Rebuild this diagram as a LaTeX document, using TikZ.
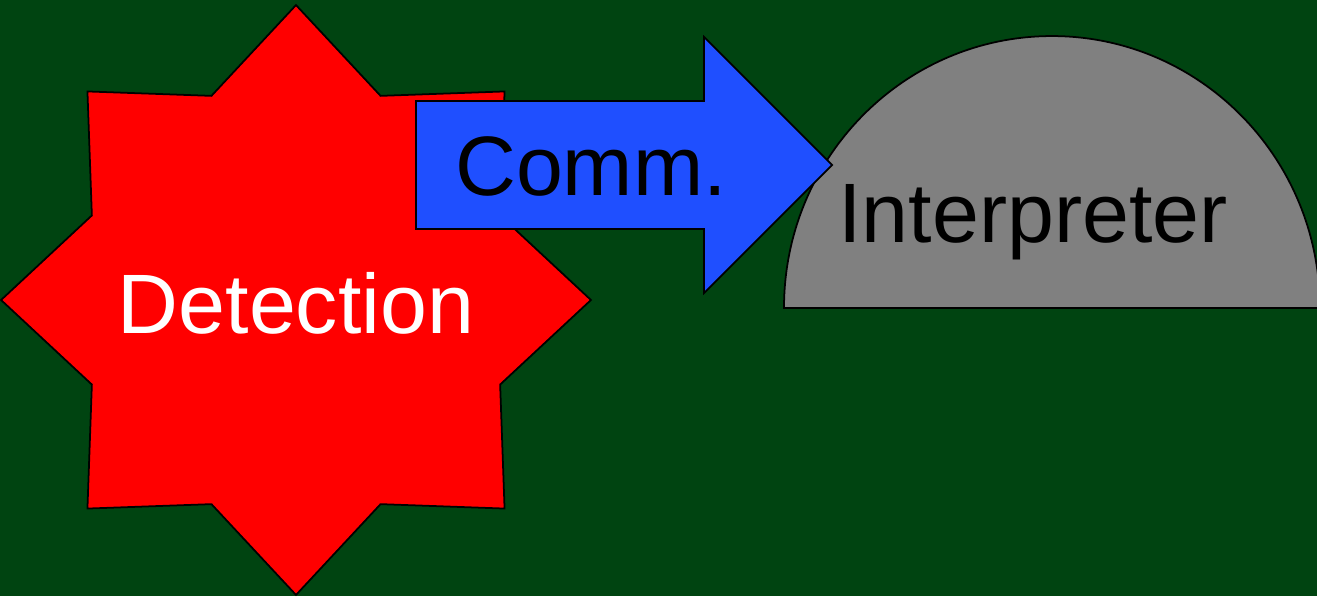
\documentclass[tikz,border=0pt]{standalone}
\usepackage{fontspec}
\setmainfont{Liberation Sans}
\usetikzlibrary{shapes.geometric}

\definecolor{fieldgreen}{RGB}{0,68,17}
\definecolor{commblue}{RGB}{31,79,255}
\definecolor{interpgray}{RGB}{128,128,128}

\tikzset{
  outline/.style={draw=black, line width=1pt, line join=miter},
  bigtext/.style={font=\fontsize{48}{58}\selectfont, inner sep=0pt}
}

\begin{document}
\begin{tikzpicture}[x=0.02cm,y=0.02cm]

        \fill[fieldgreen] (0,0) rectangle (1317,596);
        \useasboundingbox (0,0) rectangle (1317,596);

        % detection star
        \node[outline, star, star points=8, star point ratio=1.335, inner sep=0pt,
              minimum size=11.8cm, fill=red] (detect) at (296,296) {};
        \node[bigtext, anchor=base, text=white] (detecttext) at (296,263) {Detection};

        % interpreter dome
        \draw[outline, fill=interpgray] (784,288) arc[start angle=180, end angle=0,
              x radius=5.36cm, y radius=5.44cm] -- cycle;
        \node[bigtext, anchor=base] (interp) at (1033,354) {Interpreter};

        % communication arrow
        \draw[outline, fill=commblue] (416,495) -- (704,495) -- (704,559) -- (832,431)
              -- (704,303) -- (704,367) -- (416,367) -- cycle;
        \node[bigtext, anchor=base] (comm) at (591,401) {Comm.};

      \end{tikzpicture}
\end{document}
